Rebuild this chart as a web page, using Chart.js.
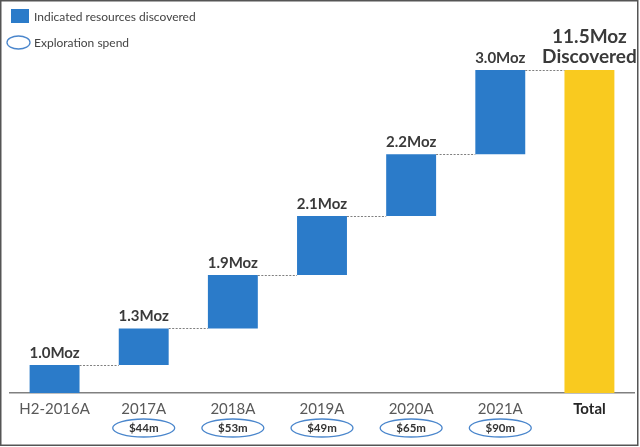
<!DOCTYPE html>
<html>
<head>
<meta charset="utf-8">
<script src="https://cdn.jsdelivr.net/npm/chart.js@4/dist/chart.umd.min.js"></script>
<style>
  html, body { margin: 0; padding: 0; background: #fff; }
  #wrap { width: 640px; height: 447px; position: relative; }
</style>
</head>
<body>
<div id="wrap"><canvas id="c" width="640" height="447"></canvas></div>
<script>
// ---- data ----
const categories = ['H2-2016A', '2017A', '2018A', '2019A', '2020A', '2021A', 'Total'];
const increments = [1.0, 1.3, 1.9, 2.1, 2.2, 3.0];
const totalValue = 11.5;
const valueLabels = ['1.0Moz', '1.3Moz', '1.9Moz', '2.1Moz', '2.2Moz', '3.0Moz'];
const totalLabel = ['11.5Moz', 'Discovered'];
const spendLabels = ['', '$44m', '$53m', '$49m', '$65m', '$90m', ''];
const legendLabels = ['Indicated resources discovered', 'Exploration spend'];

// ---- build floating bars ----
const floating = [];
let run = 0;
increments.forEach(v => { floating.push([run, run + v]); run += v; });
floating.push([0, totalValue]);

const BLUE = '#2B7BC9';
const YELLOW = '#F9CA1F';
const FONT = 'Lato, "Open Sans", sans-serif';

const overlay = {
  id: 'overlay',
  afterDatasetsDraw(chart) {
    const ctx = chart.ctx;
    const meta = chart.getDatasetMeta(0);
    const y = chart.scales.y;
    ctx.save();
    // connectors
    ctx.strokeStyle = '#7f7f7f';
    ctx.lineWidth = 1;
    ctx.setLineDash([2, 1.5]);
    for (let i = 0; i < meta.data.length - 1; i++) {
      const a = meta.data[i], b = meta.data[i + 1];
      const lvl = Math.round(y.getPixelForValue(floating[i][1])) + 0.5;
      ctx.beginPath();
      ctx.moveTo(a.x + a.width / 2, lvl);
      ctx.lineTo(b.x - b.width / 2, lvl);
      ctx.stroke();
    }
    ctx.setLineDash([]);
    // value labels
    ctx.fillStyle = '#3a3a3a';
    ctx.textAlign = 'center';
    ctx.textBaseline = 'middle';
    ctx.font = 'bold 15px ' + FONT;
    for (let i = 0; i < valueLabels.length; i++) {
      const el = meta.data[i];
      ctx.fillText(valueLabels[i], el.x, el.y - 12);
    }
    const t = meta.data[meta.data.length - 1];
    ctx.font = 'bold 19px ' + FONT;
    ctx.fillText(totalLabel[0], t.x, t.y - 33);
    ctx.fillText(totalLabel[1], t.x, t.y - 13);
    // spend ovals
    ctx.lineWidth = 1.3;
    ctx.strokeStyle = '#4A86CC';
    ctx.font = 'bold 11.5px ' + FONT;
    const xs = chart.scales.x;
    for (let i = 0; i < spendLabels.length; i++) {
      if (!spendLabels[i]) continue;
      const cx = xs.getPixelForValue(i);
      const cy = 428;
      ctx.beginPath();
      ctx.ellipse(cx, cy, 31, 9, 0, 0, Math.PI * 2);
      ctx.stroke();
      ctx.fillStyle = '#333';
      ctx.fillText(spendLabels[i], cx, cy + 0.5);
    }
    // legend
    ctx.fillStyle = BLUE;
    ctx.fillRect(11, 9, 18, 14);
    ctx.beginPath();
    ctx.ellipse(18.5, 42.5, 11.5, 6.5, 0, 0, Math.PI * 2);
    ctx.strokeStyle = '#4A86CC';
    ctx.stroke();
    ctx.fillStyle = '#444';
    ctx.textAlign = 'left';
    ctx.font = '12px ' + FONT;
    ctx.fillText(legendLabels[0], 34, 17);
    ctx.fillText(legendLabels[1], 34, 43);
    // outer frame
    ctx.strokeStyle = '#555';
    ctx.lineWidth = 1.5;
    ctx.strokeRect(0.75, 0.75, 637, 444.5);
    ctx.restore();
  }
};

new Chart(document.getElementById('c'), {
  type: 'bar',
  data: {
    labels: categories,
    datasets: [{
      data: floating,
      backgroundColor: floating.map((_, i) => i === floating.length - 1 ? YELLOW : BLUE),
      borderWidth: 0,
      categoryPercentage: 1,
      barPercentage: 0.56
    }]
  },
  options: {
    responsive: false,
    animation: false,
    events: [],
    layout: { padding: { left: 10, right: 6, top: 28, bottom: 22 } },
    plugins: { legend: { display: false }, tooltip: { enabled: false } },
    scales: {
      x: {
        grid: { display: false, drawTicks: false },
        border: { display: true, color: '#808080', width: 1.5 },
        ticks: {
          padding: 7,
          color: ctx => ctx.index === categories.length - 1 ? '#262626' : '#595959',
          font: ctx => ({ family: FONT, size: 15, weight: ctx.index === categories.length - 1 ? 'bold' : 'normal' })
        }
      },
      y: { display: false, min: 0, max: 13 }
    }
  },
  plugins: [overlay]
});
</script>
</body>
</html>
